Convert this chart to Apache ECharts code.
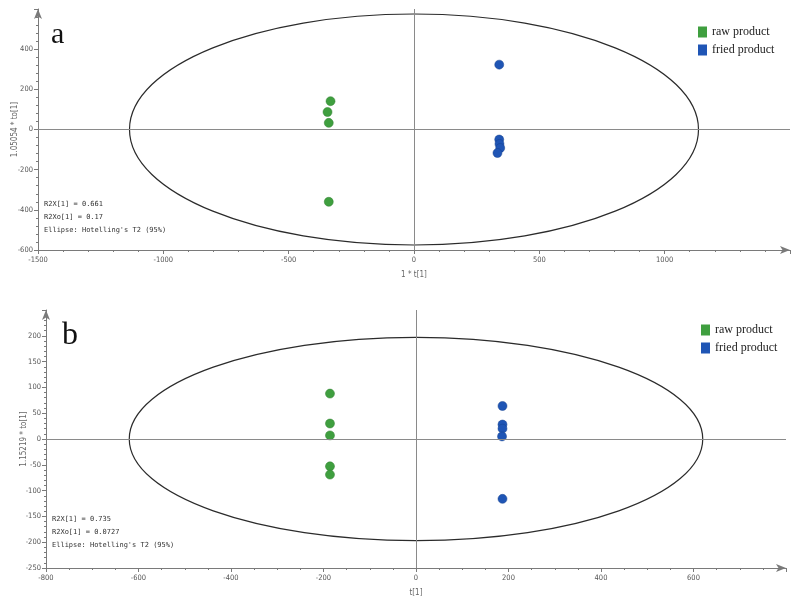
<!DOCTYPE html>
<html>
<head>
<meta charset="utf-8">
<script src="https://cdn.jsdelivr.net/npm/echarts@6/dist/echarts.min.js"></script>
<style>
  html, body { margin: 0; padding: 0; background: #fff; }
  #chart { width: 806px; height: 601px; }
</style>
</head>
<body>
<div id="chart"></div>
<script>
// panel a scores (t[1], to[1])
var rawAX = [-333, -345, -340, -340];
var rawAY = [141, 87, 33, -360];
var friedAX = [340, 340, 341, 344, 333];
var friedAY = [323, -50, -72, -92, -117];
// panel b scores
var rawBX = [-186, -186, -186, -186, -186];
var rawBY = [88, 30, 7, -53, -69];
var friedBX = [187, 187, 187, 186, 187];
var friedBY = [64, 28, 20, 5, -116];
// Hotelling T2 (95%) ellipses: centre x, centre y, radius x, radius y
var ellipseA = [0, 0, 1135, 575];
var ellipseB = [0, 0, 620, 197];
var statsA = ['R2X[1] = 0.661', 'R2Xo[1] = 0.17', "Ellipse: Hotelling's T2 (95%)"];
var statsB = ['R2X[1] = 0.735', 'R2Xo[1] = 0.0727', "Ellipse: Hotelling's T2 (95%)"];

var GREEN = '#3f9f3f';
var BLUE = '#1f55b5';
var axisCol = '#7a7a7a';
var tickFont = 'DejaVu Sans Condensed, Liberation Sans Narrow, sans-serif';

function pairs(xs, ys) {
  return xs.map(function (x, i) { return [x, ys[i]]; });
}

function ellipseItem(params, api) {
  var c = api.coord([api.value(0), api.value(1)]);
  var s = api.size([api.value(2), api.value(3)]);
  return {
    type: 'ellipse',
    shape: { cx: c[0], cy: c[1], rx: s[0], ry: s[1] },
    style: { fill: 'none', stroke: '#2b2b2b', lineWidth: 1.2 }
  };
}

function plain(v) { return String(v); }

function xAxis(idx, min, max, interval, minorSplit, name) {
  return {
    gridIndex: idx, type: 'value', min: min, max: max, interval: interval,
    name: name, nameLocation: 'middle', nameGap: 21,
    nameTextStyle: { fontSize: 8, color: '#666', fontFamily: tickFont },
    axisLine: { onZero: false, lineStyle: { color: axisCol, width: 1 }, symbol: ['none', 'arrow'], symbolSize: [6, 10] },
    axisTick: { show: true, length: 4, lineStyle: { color: axisCol } },
    minorTick: { show: true, splitNumber: minorSplit, length: 2, lineStyle: { color: axisCol } },
    axisLabel: { fontSize: 7.5, color: '#555', fontFamily: tickFont, margin: 6, showMaxLabel: false, formatter: plain },
    splitLine: { show: false }
  };
}

function yAxis(idx, min, max, interval, minorSplit, name, gap) {
  return {
    gridIndex: idx, type: 'value', min: min, max: max, interval: interval,
    name: name, nameLocation: 'middle', nameGap: gap, nameRotate: 90, nameMoveOverlap: false,
    nameTextStyle: { fontSize: 8, color: '#666', fontFamily: tickFont },
    axisLine: { onZero: false, lineStyle: { color: axisCol, width: 1 }, symbol: ['none', 'arrow'], symbolSize: [6, 10] },
    axisTick: { show: true, length: 4, lineStyle: { color: axisCol } },
    minorTick: { show: true, splitNumber: minorSplit, length: 2, lineStyle: { color: axisCol } },
    axisLabel: { fontSize: 7.5, color: '#555', fontFamily: tickFont, margin: 5, showMaxLabel: false, formatter: plain },
    splitLine: { show: false }
  };
}

function zeroLines() {
  return {
    silent: true, symbol: 'none', label: { show: false },
    lineStyle: { color: '#8a8a8a', width: 1, type: 'solid' },
    data: [{ xAxis: 0 }, { yAxis: 0 }]
  };
}

function statsText(lines, left, top) {
  return lines.map(function (t, i) {
    return {
      type: 'text', left: left, top: top + i * 13,
      style: { text: t, fontSize: 7, fill: '#333', fontFamily: 'DejaVu Sans Mono, monospace' }
    };
  });
}

var legendStyle = { fontSize: 12, color: '#222', fontFamily: 'Liberation Serif, Times New Roman, serif' };

var chart = echarts.init(document.getElementById('chart'));
chart.setOption({
  backgroundColor: '#ffffff',
  animation: false,
  grid: [
    { left: 38, width: 752, top: 9, height: 241, containLabel: false, outerBoundsMode: 'none' },
    { left: 46, width: 740, top: 310, height: 258, containLabel: false, outerBoundsMode: 'none' }
  ],
  xAxis: [
    xAxis(0, -1500, 1500, 500, 5, '1 * t[1]'),
    xAxis(1, -800, 800, 200, 4, 't[1]')
  ],
  yAxis: [
    yAxis(0, -600, 600, 200, 5, '1.05054 * to[1]', 19),
    yAxis(1, -250, 250, 50, 5, '1.15219 * to[1]', 18)
  ],
  legend: [
    {
      orient: 'vertical', left: 693, top: 21, itemWidth: 9, itemHeight: 11, itemGap: 6,
      icon: 'rect', itemStyle: { borderWidth: 0 }, textStyle: legendStyle, data: ['raw product', 'fried product']
    },
    {
      orient: 'vertical', left: 696, top: 319, itemWidth: 9, itemHeight: 11, itemGap: 6,
      icon: 'rect', itemStyle: { borderWidth: 0 }, textStyle: legendStyle, data: ['raw product', 'fried product']
    }
  ],
  graphic: [
    { type: 'text', left: 51, top: 20, style: { text: 'a', fontSize: 30, fill: '#111', fontFamily: 'Liberation Serif, serif' } },
    { type: 'text', left: 62, top: 320, style: { text: 'b', fontSize: 32, fill: '#111', fontFamily: 'Liberation Serif, serif' } }
  ].concat(statsText(statsA, 44, 201)).concat(statsText(statsB, 52, 516)),
  series: [
    {
      type: 'custom', xAxisIndex: 0, yAxisIndex: 0, silent: true, clip: false,
      renderItem: ellipseItem, data: [ellipseA], encode: { x: 0, y: 1 },
      markLine: zeroLines(), z: 1
    },
    {
      type: 'custom', xAxisIndex: 1, yAxisIndex: 1, silent: true, clip: false,
      renderItem: ellipseItem, data: [ellipseB], encode: { x: 0, y: 1 },
      markLine: zeroLines(), z: 1
    },
    {
      name: 'raw product', type: 'scatter', xAxisIndex: 0, yAxisIndex: 0, symbolSize: 9,
      itemStyle: { color: GREEN, borderColor: '#2f7f2f', borderWidth: 0.5, opacity: 1 },
      data: pairs(rawAX, rawAY), z: 3
    },
    {
      name: 'fried product', type: 'scatter', xAxisIndex: 0, yAxisIndex: 0, symbolSize: 9,
      itemStyle: { color: BLUE, borderColor: '#17428f', borderWidth: 0.5, opacity: 1 },
      data: pairs(friedAX, friedAY), z: 3
    },
    {
      name: 'raw product', type: 'scatter', xAxisIndex: 1, yAxisIndex: 1, symbolSize: 9,
      itemStyle: { color: GREEN, borderColor: '#2f7f2f', borderWidth: 0.5, opacity: 1 },
      data: pairs(rawBX, rawBY), z: 3
    },
    {
      name: 'fried product', type: 'scatter', xAxisIndex: 1, yAxisIndex: 1, symbolSize: 9,
      itemStyle: { color: BLUE, borderColor: '#17428f', borderWidth: 0.5, opacity: 1 },
      data: pairs(friedBX, friedBY), z: 3
    }
  ]
});
</script>
</body>
</html>
